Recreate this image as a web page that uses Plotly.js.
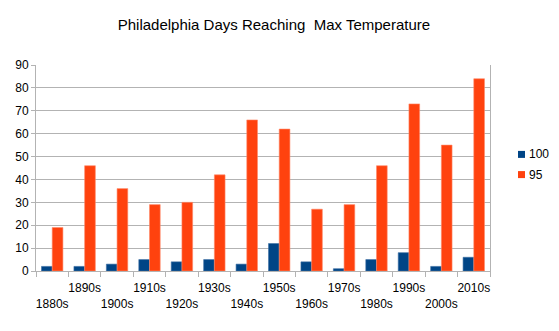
<!DOCTYPE html>
<html>
<head>
<meta charset="utf-8">
<script src="https://cdn.plot.ly/plotly-3.0.1.min.js"></script>
<style>html,body{margin:0;padding:0;background:#fff;}#chart{width:559px;height:331px;}</style>
</head>
<body>
<div id="chart"></div>
<script>
var decades = ["1880s","1890s","1900s","1910s","1920s","1930s","1940s","1950s","1960s","1970s","1980s","1990s","2000s","2010s"];
var days100 = [2,2,3,5,4,5,3,12,4,1,5,8,2,6];
var days95 = [19,46,36,29,30,42,66,62,27,29,46,73,55,84];
var seriesNames = ["100","95"];
var seriesColors = ["#004586","#ff420e"];

var tickText = decades.map(function(d, i){ return i % 2 === 0 ? "&nbsp;<br>" + d : d + "<br>&nbsp;"; });

var font = "Liberation Sans, Arial, sans-serif";
var traces = [
  {type:"bar", x:decades, y:days100, name:seriesNames[0], marker:{color:seriesColors[0], line:{color:"#3d6fa3", width:0.6}}},
  {type:"bar", x:decades, y:days95, name:seriesNames[1], marker:{color:seriesColors[1], line:{color:"#ff8a6a", width:0.6}}}
];

// manual legend (small squares close to the text)
var legendY = [0.566, 0.468];
var shapes = [], annotations = [];
seriesNames.forEach(function(n, i){
  shapes.push({type:"rect", xref:"paper", yref:"paper", x0:1.0617, x1:1.0771, y0:legendY[i]-0.017, y1:legendY[i]+0.017, fillcolor:seriesColors[i], line:{width:0}});
  annotations.push({xref:"paper", yref:"paper", x:1.081, y:legendY[i], xanchor:"left", yanchor:"middle", text:n, showarrow:false, font:{family:font, size:12, color:"#000"}});
});

var layout = {
  width:559, height:331,
  margin:{l:36, r:69, t:65, b:60, autoexpand:false},
  paper_bgcolor:"#fff", plot_bgcolor:"#fff",
  font:{family:font, size:12, color:"#000"},
  title:{text:"Philadelphia Days Reaching  Max Temperature", font:{family:font, size:15, color:"#000"}, x:0.49, xref:"container", xanchor:"center", y:0.925, yref:"container", yanchor:"middle"},
  barmode:"group", bargap:0.34, bargroupgap:0,
  xaxis:{type:"category", tickvals:decades, ticktext:tickText, tickson:"boundaries", ticks:"outside", ticklen:5, tickcolor:"#b3b3b3", showline:true, linecolor:"#b3b3b3", showgrid:false, tickangle:0, tickfont:{size:12, family:font}, ticklabelstandoff:6, automargin:false},
  yaxis:{range:[0,90], dtick:10, ticks:"outside", ticklen:4, tickcolor:"#b3b3b3", showline:true, linecolor:"#b3b3b3", mirror:true, gridcolor:"#b3b3b3", zeroline:false, tickfont:{size:12, family:font}, automargin:false},
  showlegend:false,
  shapes:shapes,
  annotations:annotations
};
Plotly.newPlot("chart", traces, layout, {displayModeBar:false, staticPlot:true});
</script>
</body>
</html>
